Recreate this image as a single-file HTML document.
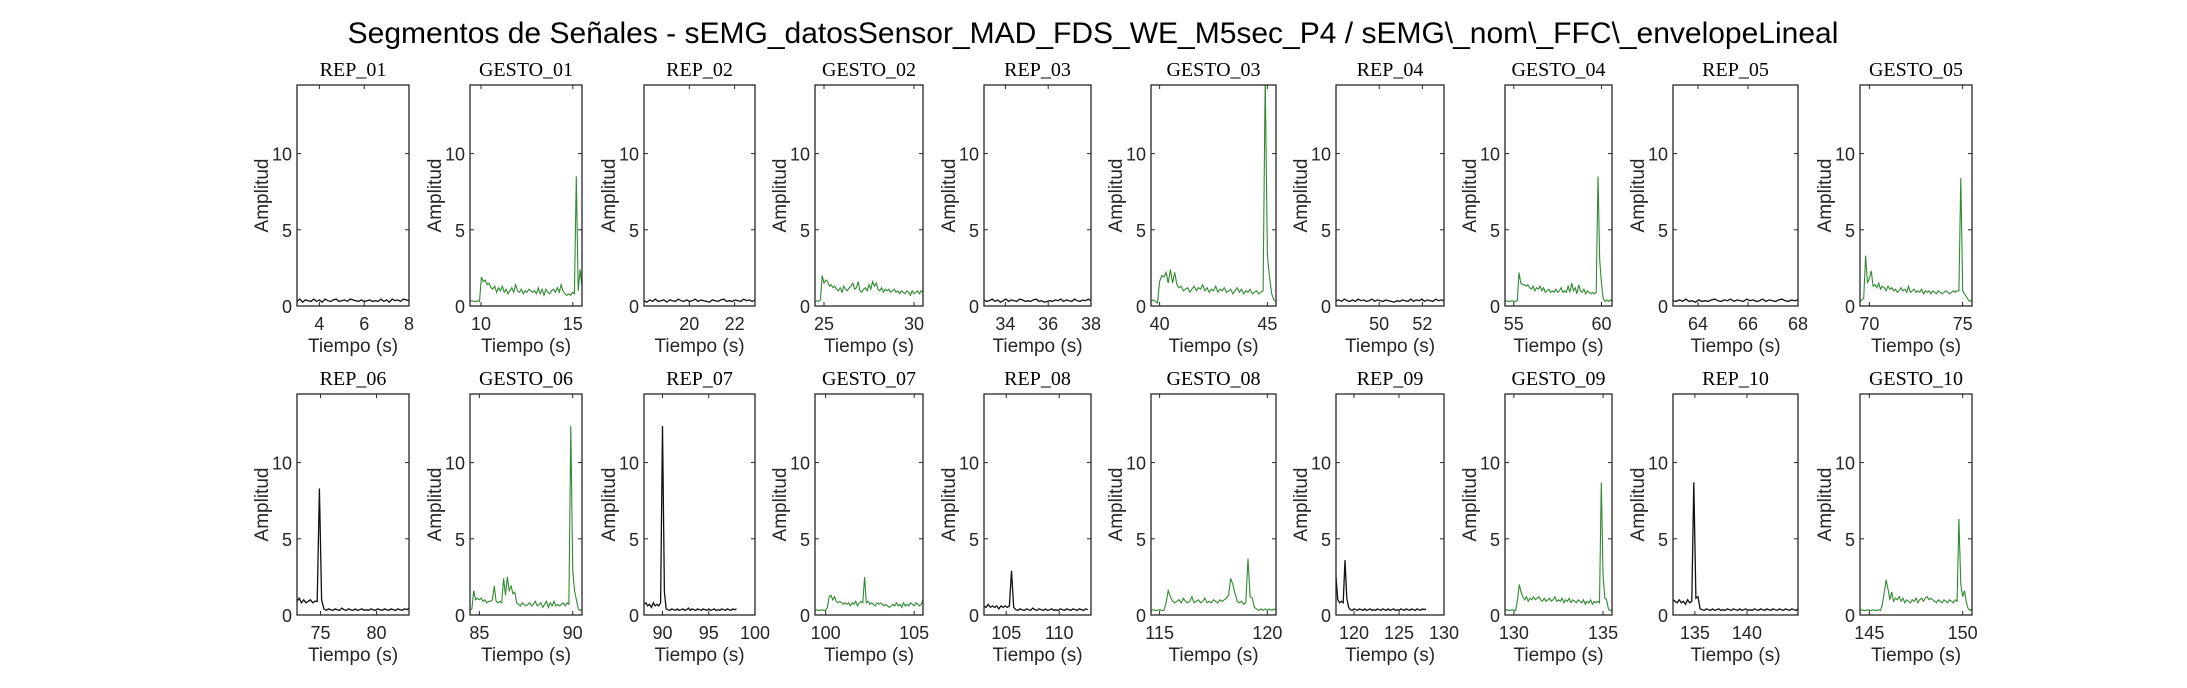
<!DOCTYPE html>
<html><head><meta charset="utf-8">
<style>
html,body{margin:0;padding:0;background:#fff;}
svg{display:block;}
.tk{font-family:"Liberation Sans",sans-serif;font-size:18px;fill:#262626;}
.lb{font-family:"Liberation Sans",sans-serif;font-size:19px;fill:#262626;}
.st{font-family:"Liberation Serif",serif;font-size:20px;fill:#000;}
</style></head>
<body>
<svg id="fig" width="2187" height="688" viewBox="0 0 2187 688" xmlns="http://www.w3.org/2000/svg">
<text x="1093" y="43" text-anchor="middle" font-family="Liberation Sans, sans-serif" font-size="30" fill="#000">Segmentos de Señales - sEMG_datosSensor_MAD_FDS_WE_M5sec_P4 / sEMG\_nom\_FFC\_envelopeLineal</text>
</svg>
<script>
// ---- data ----
const titles = ["REP_01","GESTO_01","REP_02","GESTO_02","REP_03","GESTO_03","REP_04","GESTO_04","REP_05","GESTO_05",
"REP_06","GESTO_06","REP_07","GESTO_07","REP_08","GESTO_08","REP_09","GESTO_09","REP_10","GESTO_10"];
const xMin = [3,9.4,18,24.5,33,39.6,48,54.5,63,69.5, 72.9,84.5,88,99.4,102.9,114.6,118,129.5,132.9,144.5];
const xMax = [8,15.5,22.9,30.5,38,45.4,53,60.6,68,75.5, 82.9,90.5,100,105.5,113,120.4,130,135.5,144.9,150.5];
const xTicks = [[4,6,8],[10,15],[20,22],[25,30],[34,36,38],[40,45],[50,52],[55,60],[64,66,68],[70,75],
[75,80],[85,90],[90,95,100],[100,105],[105,110],[115,120],[120,125,130],[130,135],[135,140],[145,150]];
const yTicks = [0,5,10];
const yLimit = 14.5;
// each series: start time, end time, sampled values
const tStart = [3,9.4,18,24.5,33,39.6,48,54.5,63,69.5, 72.9,84.5,88,99.4,102.9,114.6,118,129.5,132.9,144.5];
const tEnd = [8,15.5,22.9,30.5,38,45.4,53,60.6,68,75.5, 82.9,90.5,98,105.5,112.7,120.4,128,135.5,144.9,150.5];
const v00 = [.3,.45,.25,.4,.35,.3,.45,.3,.4,.25,.45,.35,.3,.4,.45,.3,.35,.4,.3,.45,.4,.35,.3,.4,.3,.35,.4,.3,.35,.3,.45,.3,.4,.25,.45,.35,.4,.3,.45,.4,.35];
const v01 = [0.3,0.35,0.3,0.3,0.35,0.3,1.9,1.6,1.7,1.4,1.5,1.2,1.1,1.3,0.9,1.2,1.0,1.3,0.9,1.1,0.8,1.0,1.2,0.9,1.4,1.0,0.9,1.1,0.8,1.0,0.9,1.1,1.0,0.9,1.0,0.8,1.2,0.8,1.1,0.7,1.1,0.9,0.8,1.0,1.1,0.9,1.2,0.9,1.4,1.0,0.8,0.7,0.8,0.7,0.9,0.8,8.5,1.0,2.4,1.3];
const v02 = [.35,.25,.4,.3,.45,.3,.35,.4,.25,.4,.35,.3,.45,.35,.3,.4,.3,.35,.45,.3,.4,.35,.3,.25,.4,.35,.3,.4,.45,.3,.35,.3,.4,.35,.3,.45,.35,.4,.3,.4];
const v03 = [0.3,0.35,0.3,0.4,2.0,1.5,1.7,1.6,1.3,1.4,1.2,1.3,1.1,1.0,1.2,0.9,1.3,1.1,1.0,1.2,1.3,1.5,1.1,1.2,1.6,1.0,0.9,1.1,1.2,1.0,1.4,1.1,1.6,1.3,1.5,1.1,1.0,1.2,0.9,1.1,1.0,1.1,0.9,1.0,1.1,0.9,1.0,0.8,1.0,0.9,0.8,1.0,0.9,0.7,1.0,0.8,0.9,1.0,0.8,1.0,0.9];
const v04 = [.4,.3,.35,.45,.3,.4,.25,.35,.45,.3,.4,.35,.3,.45,.4,.3,.35,.3,.4,.45,.3,.35,.25,.3,.35,.3,.4,.35,.45,.3,.4,.35,.3,.45,.35,.3,.4,.35,.45,.35];
const v05 = [0.3,0.4,0.3,0.2,1.6,2.0,1.9,2.2,1.5,2.4,1.5,2.2,1.4,1.2,1.3,1.0,1.1,1.2,0.9,1.1,1.3,1.0,1.2,1.1,1.4,1.0,1.2,0.9,1.1,1.0,1.3,0.9,1.1,1.0,1.2,0.9,1.0,1.1,0.8,1.0,1.2,0.9,1.1,0.8,1.0,0.9,1.1,0.8,0.9,1.0,0.8,0.9,1.0,15,3.3,1.9,0.8,0.4,0.3];
const v06 = [.35,.4,.3,.45,.35,.3,.4,.3,.45,.35,.4,.3,.35,.45,.3,.4,.35,.3,.4,.35,.3,.25,.35,.3,.4,.35,.3,.45,.3,.4,.35,.45,.3,.4,.35,.3,.45,.35,.4,.35];
const v07 = [0.3,0.35,0.3,0.3,0.35,0.3,0.3,0.35,2.2,1.5,1.4,1.4,1.3,1.4,1.2,1.1,1.3,1.0,1.2,1.1,1.3,1.0,1.2,0.9,1.0,1.1,0.9,1.0,0.9,1.1,0.9,1.0,1.2,0.9,1.0,0.9,1.3,0.9,1.5,1.0,1.2,0.8,1.4,1.0,0.9,1.1,0.8,1.0,0.9,0.8,0.9,0.8,0.9,8.5,3.0,1.5,0.5,0.3,0.4,0.3,0.4,0.3];
const v08 = [.35,.3,.4,.3,.45,.3,.35,.25,.4,.3,.35,.3,.4,.45,.35,.3,.4,.35,.45,.3,.4,.35,.3,.45,.35,.4,.3,.35,.45,.3,.4,.35,.3,.4,.45,.35,.3,.4,.35,.4];
const v09 = [0.3,0.4,0.5,3.3,1.5,1.8,2.3,1.3,1.4,1.2,1.5,1.1,1.3,1.2,1.0,1.3,1.1,1.2,1.0,1.1,0.9,1.0,1.2,1.0,1.1,0.9,1.3,0.9,1.0,1.1,0.9,1.0,0.9,1.1,0.8,1.0,0.9,1.0,0.8,1.0,0.9,0.8,1.0,0.9,0.8,0.9,1.0,0.9,0.8,0.9,1.0,0.9,1.0,1.0,8.4,1.0,0.8,0.6,0.4,0.3,0.4];
const v10 = [0.9,1.1,0.8,1.0,0.8,0.9,1.0,0.8,0.9,0.9,8.3,1.0,0.4,0.3,0.4,0.35,0.3,0.4,0.35,0.3,0.45,0.35,0.3,0.4,0.35,0.3,0.4,0.3,0.35,0.4,0.3,0.35,0.3,0.4,0.35,0.3,0.4,0.35,0.3,0.4,0.35,0.3,0.4,0.35,0.3,0.4,0.35,0.3,0.4,0.35,0.45];
const v11 = [0.3,0.4,1.6,1.0,1.1,1.0,1.1,0.9,1.0,0.8,0.9,0.9,1.0,1.9,0.9,0.8,0.9,0.8,2.4,1.3,2.5,1.6,1.9,1.4,1.5,0.8,0.7,0.6,0.8,0.7,0.6,0.7,0.8,0.6,0.7,0.9,0.6,0.7,0.8,0.5,0.7,0.9,0.5,0.8,0.6,0.9,0.6,0.7,0.6,0.7,0.8,0.6,0.8,0.7,12.4,3.0,1.6,1.0,0.4,0.3,0.4];
const v12 = [0.7,0.8,0.6,0.7,0.5,0.8,0.6,0.7,0.6,0.8,12.4,1.5,0.4,0.35,0.3,0.4,0.35,0.3,0.4,0.3,0.35,0.4,0.3,0.35,0.45,0.3,0.4,0.35,0.3,0.4,0.35,0.3,0.4,0.35,0.3,0.4,0.3,0.35,0.4,0.3,0.35,0.3,0.4,0.35,0.3,0.4,0.35,0.3,0.4,0.35,0.4];
const v13 = [0.3,0.35,0.3,0.3,0.35,0.3,0.3,0.5,1.2,1.3,1.0,1.2,0.9,0.8,0.9,0.8,0.7,0.8,0.7,0.8,0.6,0.8,0.7,0.9,0.6,0.8,0.9,0.8,2.5,0.8,0.9,0.7,0.8,0.7,0.6,0.8,0.7,0.8,0.7,0.6,0.7,0.6,0.5,0.6,0.7,0.6,0.8,0.6,0.7,0.5,0.8,0.6,0.7,0.6,0.8,0.7,0.6,0.8,0.7,0.6,0.7,1.0];
const v14 = [0.6,0.5,0.7,0.5,0.6,0.5,0.6,0.4,0.6,0.5,0.6,0.5,0.6,2.9,0.5,0.35,0.3,0.4,0.35,0.3,0.4,0.35,0.3,0.45,0.35,0.3,0.4,0.35,0.3,0.4,0.3,0.35,0.4,0.3,0.35,0.3,0.4,0.35,0.3,0.4,0.35,0.3,0.4,0.35,0.3,0.4,0.35,0.3,0.4,0.35];
const v15 = [0.3,0.35,0.3,0.3,0.35,0.3,0.3,0.8,1.6,1.2,0.9,0.8,0.9,1.0,0.8,1.1,0.9,0.8,0.9,1.2,0.8,0.9,1.0,0.8,0.9,1.1,0.8,0.9,0.8,1.0,0.9,0.8,1.0,0.9,1.0,1.1,1.3,2.4,2.0,1.4,0.9,0.8,0.9,0.7,0.8,3.7,1.2,1.1,0.5,0.4,0.3,0.4,0.3,0.4,0.3,0.4,0.3,0.4,0.3];
const v16 = [2.5,1.0,0.8,0.9,0.8,3.6,1.1,0.5,0.35,0.3,0.4,0.35,0.3,0.4,0.35,0.3,0.4,0.3,0.35,0.4,0.3,0.35,0.3,0.4,0.35,0.3,0.4,0.35,0.3,0.4,0.3,0.35,0.4,0.3,0.35,0.3,0.4,0.35,0.3,0.4,0.35,0.3,0.4,0.35,0.3,0.4,0.35,0.3,0.4,0.35,0.4];
const v17 = [0.3,0.35,0.3,0.3,0.35,0.3,0.3,1.0,2.0,1.5,1.2,1.0,1.2,0.9,1.1,1.0,1.2,1.0,1.1,1.2,1.0,0.9,1.1,0.9,1.0,1.1,0.9,1.0,1.2,0.9,1.0,0.9,1.1,0.8,1.0,0.9,1.1,0.8,1.0,0.9,0.8,1.0,0.9,0.8,1.0,0.7,0.9,0.8,1.0,0.7,0.9,0.8,0.9,0.8,8.7,2.5,1.1,1.0,0.4,0.3,0.3];
const v18 = [1.0,0.9,0.8,1.0,0.8,0.9,0.7,1.0,0.8,0.9,8.7,1.1,1.2,0.4,0.35,0.3,0.4,0.35,0.3,0.4,0.3,0.35,0.4,0.3,0.35,0.3,0.4,0.35,0.3,0.4,0.35,0.3,0.4,0.3,0.35,0.4,0.3,0.35,0.3,0.4,0.35,0.3,0.4,0.35,0.3,0.4,0.35,0.3,0.4,0.35,0.3,0.4,0.35,0.3,0.4,0.35,0.3,0.4,0.35,0.3,0.4];
const v19 = [0.3,0.35,0.3,0.3,0.35,0.3,0.3,0.35,0.3,0.3,0.35,0.3,0.7,1.5,2.3,1.7,1.0,1.5,0.9,1.1,1.0,1.2,0.9,1.1,0.8,1.0,0.9,0.8,1.0,0.9,1.1,0.8,1.0,1.1,0.9,1.1,1.2,1.0,1.1,1.0,0.9,0.8,1.0,0.9,0.8,1.0,0.9,0.8,1.0,0.9,0.8,1.0,0.9,6.3,2.0,1.2,1.6,0.8,0.4,0.3,0.4];
const values = [v00,v01,v02,v03,v04,v05,v06,v07,v08,v09,v10,v11,v12,v13,v14,v15,v16,v17,v18,v19];

// ---- layout ----
const colL = [297,470,644,815,984,1151,1336,1505,1673,1860];
const colR = [409,582,755,923,1091,1276,1444,1612,1798,1972];
const rowT = [85,394];
const H = 221;
const NS = "http://www.w3.org/2000/svg";
const svg = document.getElementById('fig');
function mk(tag, attrs, parent){const e=document.createElementNS(NS,tag);for(const k in attrs)e.setAttribute(k,attrs[k]);(parent||svg).appendChild(e);return e;}

for(let p=0;p<20;p++){
  const c=p%10, r=Math.floor(p/10);
  const L=colL[c], R=colR[c], T=rowT[r], B=T+H;
  const sx = x => L + (x - xMin[p])/(xMax[p]-xMin[p])*(R-L);
  const sy = y => B - y/yLimit*H;
  const isG = titles[p].startsWith("GESTO");
  const g = mk('g',{});
  
  
  const cp = mk('clipPath',{id:'cp'+p}, g);
  mk('rect',{x:L,y:T,width:R-L,height:H}, cp);
  // series
  const vals = values[p];
  const n = vals.length;
  let d='';
  for(let i=0;i<n;i++){
    const t = tStart[p] + i*(tEnd[p]-tStart[p])/(n-1);
    d += (i?'L':'M') + sx(t).toFixed(1) + ' ' + sy(vals[i]).toFixed(1);
  }
  const line = mk('path',{d:d,fill:'none',stroke:isG?'#2f8a2f':'#111','stroke-width':isG?1.1:1.3,'clip-path':'url(#cp'+p+')'}, g);
  
  
  // axes box
  const box = mk('rect',{x:L,y:T,width:R-L,height:H,fill:'none',stroke:'#262626','stroke-width':1.3}, g);
  
  
  // x ticks
  xTicks[p].forEach(v=>{
    const x=sx(v);
    mk('line',{x1:x,y1:B,x2:x,y2:B-4,stroke:'#262626','stroke-width':1}, g);
    mk('line',{x1:x,y1:T,x2:x,y2:T+4,stroke:'#262626','stroke-width':1}, g);
    const tl = mk('text',{x:x,y:B+24,'text-anchor':'middle','class':'tk'}, g);
    tl.textContent=v;
    
    
  });
  yTicks.forEach(v=>{
    const y=sy(v);
    mk('line',{x1:L,y1:y,x2:L+4,y2:y,stroke:'#262626','stroke-width':1}, g);
    mk('line',{x1:R,y1:y,x2:R-4,y2:y,stroke:'#262626','stroke-width':1}, g);
    const tl = mk('text',{x:L-5,y:y+7,'text-anchor':'end','class':'tk'}, g);
    tl.textContent=v;
    
    
  });
  const xl = mk('text',{x:(L+R)/2,y:B+46,'text-anchor':'middle','class':'lb'}, g);
  xl.textContent='Tiempo (s)';
  
  
  const cy=(T+B)/2, cx=L-29;
  const yl = mk('text',{x:cx,y:cy,'text-anchor':'middle','class':'lb',transform:'rotate(-90 '+cx+' '+cy+')'}, g);
  yl.textContent='Amplitud';
  
  
  const st = mk('text',{x:(L+R)/2,y:T-9,'text-anchor':'middle','class':'st'}, g);
  st.textContent=titles[p];
  
  
}
</script>
</body></html>
